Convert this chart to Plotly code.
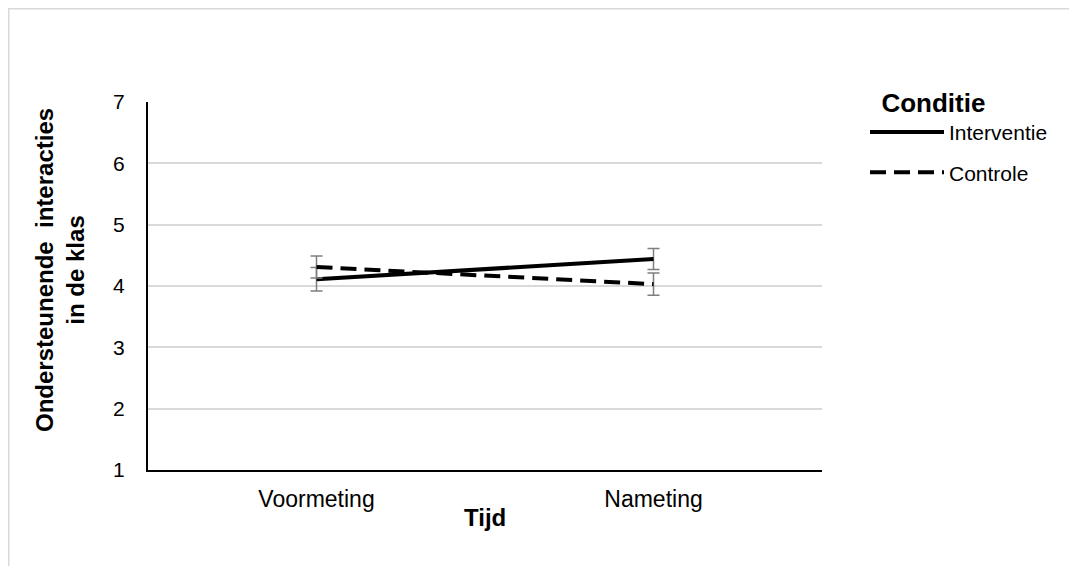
import plotly.graph_objects as go

categories = ["Voormeting", "Nameting"]
interventie = [4.11, 4.44]
interventie_err = [0.19, 0.17]
controle = [4.31, 4.03]
controle_err = [0.18, 0.18]
y_ticks = [1, 2, 3, 4, 5, 6, 7]

font_family = "Liberation Sans, Arial, sans-serif"
err_color = "#7f7f7f"

# page body adds an 8px offset; figure sized/margined to compensate
W, H = 1069, 558
L, T, PW, PH = 140, 94, 674, 368

fig = go.Figure()
fig.add_trace(go.Scatter(
    x=categories, y=interventie, name="Interventie", mode="lines",
    legendgroup="a",
    line=dict(color="black", width=4),
    error_y=dict(type="data", array=interventie_err, color=err_color, thickness=1.5, width=6),
))
fig.add_trace(go.Scatter(
    x=categories, y=controle, name="Controle", mode="lines",
    legendgroup="b",
    line=dict(color="black", width=4, dash="16px,8px"),
    error_y=dict(type="data", array=controle_err, color=err_color, thickness=1.5, width=6),
))

fig.update_layout(
    width=W, height=H,
    margin=dict(l=L, r=W - L - PW, t=T, b=H - T - PH),
    paper_bgcolor="white", plot_bgcolor="white",
    font=dict(family=font_family, size=20, color="black"),
    showlegend=True,
    legend=dict(
        x=(857 - L) / PW, y=1.065, xanchor="left", yanchor="top",
        title=dict(text="<b>&nbsp;&nbsp;Conditie</b>", font=dict(size=26)),
        font=dict(size=21), itemwidth=74, tracegroupgap=10,
        traceorder="grouped",
        bgcolor="rgba(0,0,0,0)",
    ),
    xaxis=dict(
        type="category", range=[-0.5, 1.5],
        showline=True, linecolor="black", linewidth=2,
        showgrid=False, ticks="", tickfont=dict(size=23), ticklabelstandoff=7,
    ),
    yaxis=dict(
        range=[1, 7], tickvals=y_ticks, ticktext=[str(v) for v in y_ticks],
        showline=True, linecolor="black", linewidth=2,
        showgrid=True, gridcolor="#d9d9d9", gridwidth=1.5,
        zeroline=False, ticks="", ticklabelstandoff=17, tickfont=dict(size=21),
    ),
    annotations=[
        dict(text="<b>Ondersteunende  interacties<br>in de klas</b>", textangle=-90,
             xref="paper", yref="paper", x=(52 - L) / PW, y=(T + PH - 262) / PH,
             xanchor="center", yanchor="middle", showarrow=False,
             font=dict(size=24)),
        dict(text="<b>Tijd</b>", xref="paper", yref="paper",
             x=0.5, y=(T + PH - 509) / PH, xanchor="center", yanchor="middle",
             showarrow=False, font=dict(size=24)),
    ],
)

# outer chart border (light grey frame)
fig.add_shape(type="rect", xref="paper", yref="paper",
              x0=(0.5 - L) / PW, x1=(W + 20 - L) / PW,
              y0=(T + PH - (H + 20)) / PH, y1=(T + PH - 0.5) / PH,
              line=dict(color="#d9d9d9", width=2), layer="below")

fig.write_html("out.html")
